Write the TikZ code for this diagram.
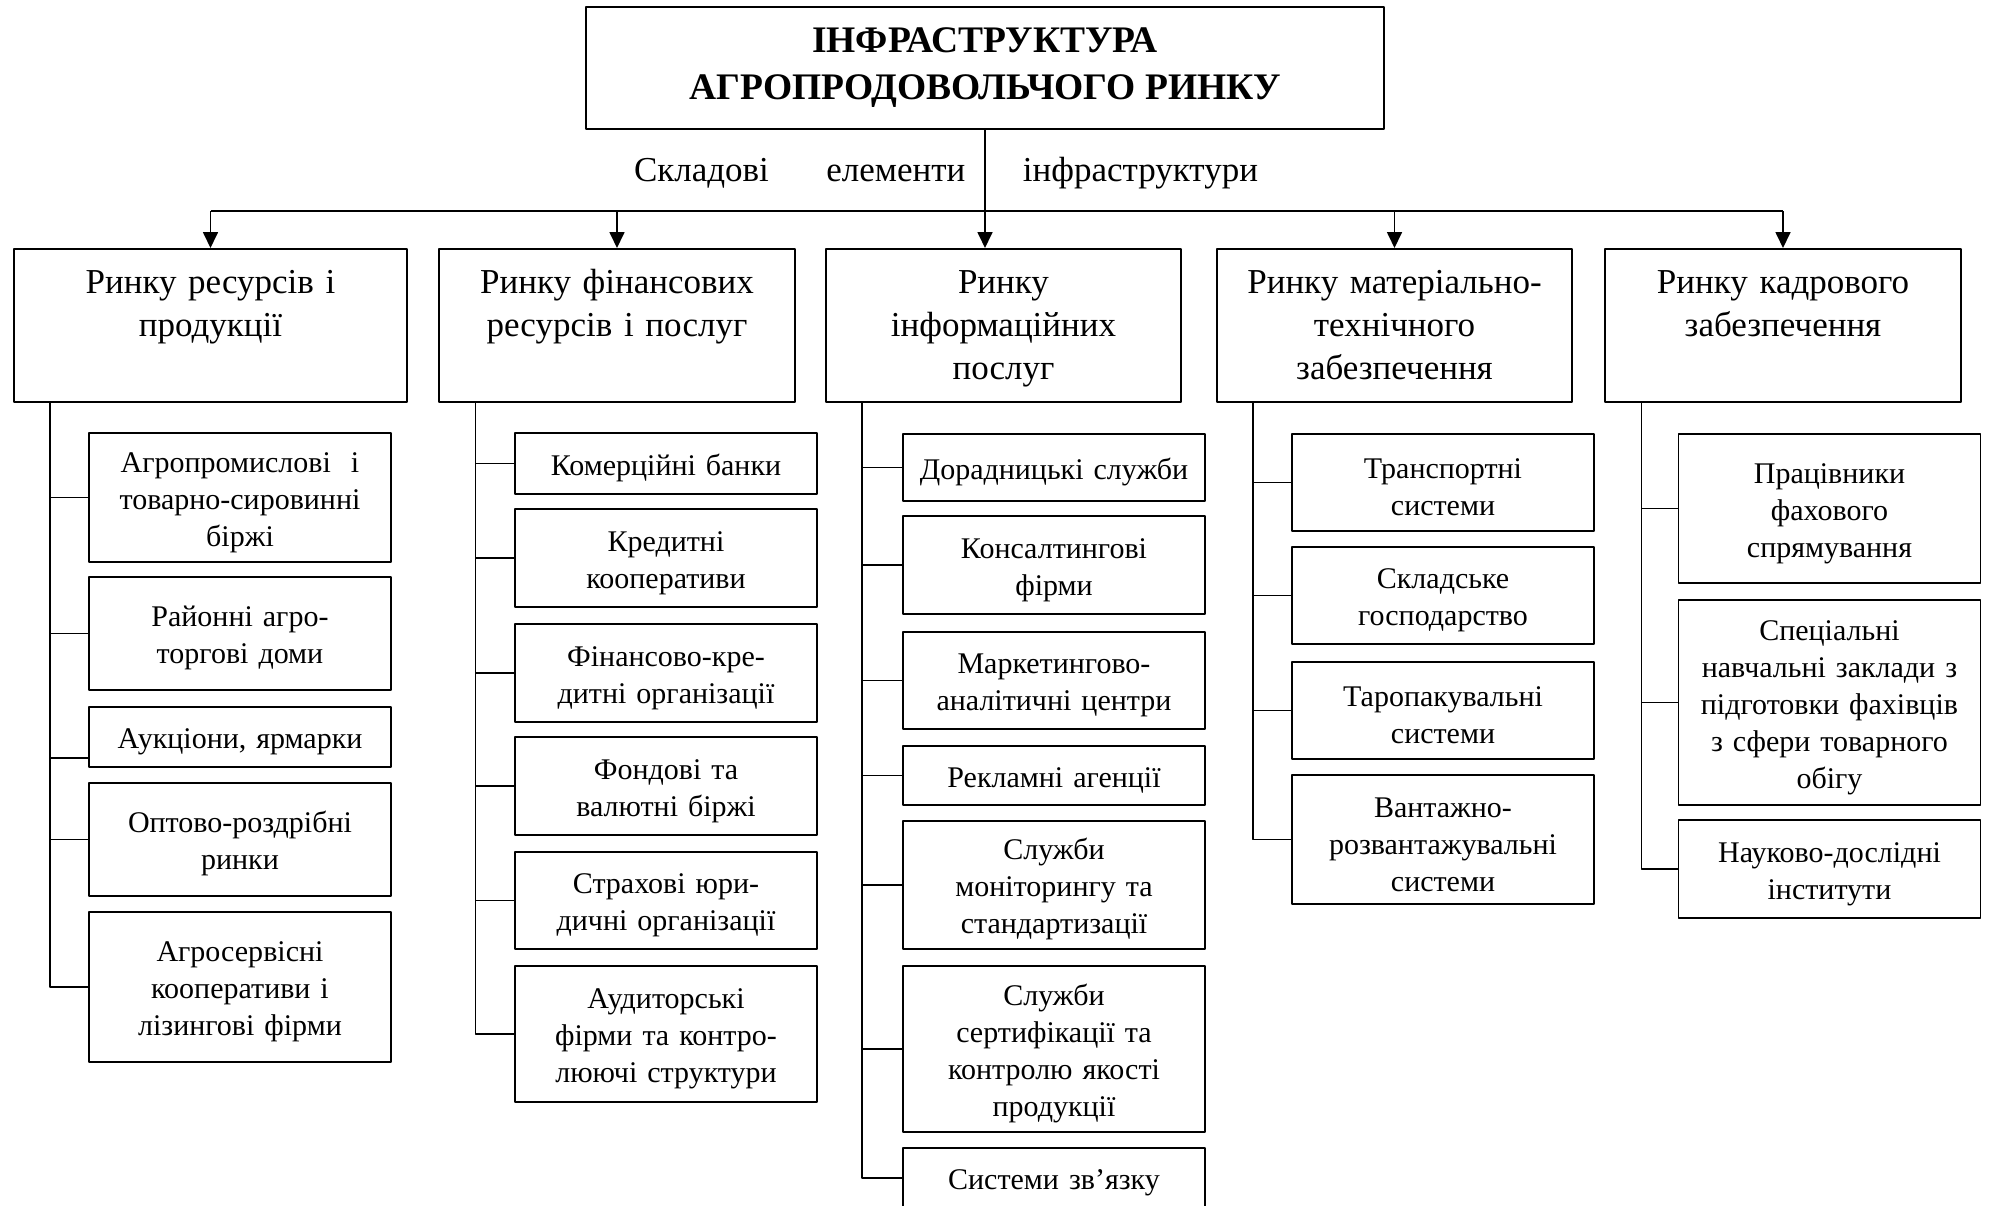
\documentclass[tikz,border=0pt]{standalone}
\usepackage{fontspec}
\setmainfont{Liberation Serif}
\usetikzlibrary{arrows.meta}
\begin{document}
\begin{tikzpicture}[x=0.4pt, y=-0.4pt, line width=0.7pt, line join=round,
	>={Triangle[length=6.4pt,width=6pt]},
	head/.style={draw, align=center, font=\fontsize{15}{18.8}\selectfont\bfseries, minimum width=319.2pt, minimum height=48.8pt},
	market/.style={draw, anchor=north, align=center, font=\fontsize{14}{17.2}\selectfont, inner xsep=0pt, inner ysep=0pt, text width=142.2pt, text height=18pt, text depth=43.2pt},
	item/.style={draw, anchor=north, align=center, font=\fontsize{12}{14.8}\selectfont, inner xsep=1pt, inner ysep=0pt, text width=118.8pt, execute at begin node={\rule{0pt}{12pt}}}]
	\clip (0,0) rectangle (1989,1206);
	\node[head] (title) at (985,68) {ІНФРАСТРУКТУРА\\АГРОПРОДОВОЛЬЧОГО РИНКУ};
	\node[font=\fontsize{14}{17}\selectfont] (sub) at (946,173) {Складові\hspace{23pt}елементи\hspace{23pt}інфраструктури};
	\node[market, text width=157.2pt] (m1) at (210.5,248) {Ринку ресурсів і\\продукції};
	\node[market] (m2) at (617,248) {Ринку фінансових\\ресурсів і послуг};
	\node[market] (m3) at (1003.5,248) {Ринку\\інформаційних\\послуг};
	\node[market] (m4) at (1394.5,248) {Ринку матеріально-\\технічного\\забезпечення};
	\node[market] (m5) at (1783,248) {Ринку кадрового\\забезпечення};
	\coordinate (bus) at (0,211);
	\draw (m1.north |- bus) -- (m5.north |- bus);
	\draw[->] (title.south) -- (title.south |- m3.north);
	\foreach \m in {m1,m2,m4,m5}
	\draw[->] (\m.north |- bus) -- (\m.north);
	\node[item, minimum height=51.6pt] (a1) at (240,432) {Агропромислові\ \ і\\товарно-сировинні\\біржі};
	\node[item, minimum height=45.2pt] (a2) at (240,576) {Районні агро-\\торгові доми};
	\node[item, minimum height=24pt] (a3) at (240,706) {Аукціони, ярмарки};
	\node[item, minimum height=45.2pt] (a4) at (240,782) {Оптово-роздрібні\\ринки};
	\node[item, minimum height=60pt] (a5) at (240,911) {Агросервісні\\кооперативи і\\лізингові фірми};
	\node[item, minimum height=24.4pt] (b1) at (666,432) {Комерційні банки};
	\node[item, minimum height=39.2pt] (b2) at (666,508) {Кредитні\\кооперативи};
	\node[item, minimum height=39.2pt] (b3) at (666,623) {Фінансово-кре-\\дитні організації};
	\node[item, minimum height=39.2pt] (b4) at (666,736) {Фондові та\\валютні біржі};
	\node[item, minimum height=38.8pt] (b5) at (666,851) {Страхові юри-\\дичні організації};
	\node[item, minimum height=54.4pt] (b6) at (666,965) {Аудиторські\\фірми та контро-\\люючі структури};
	\node[item, minimum height=26.8pt] (c1) at (1054,433) {Дорадницькі служби};
	\node[item, minimum height=39.2pt] (c2) at (1054,515) {Консалтингові\\фірми};
	\node[item, minimum height=38.8pt] (c3) at (1054,631) {Маркетингово-\\аналітичні центри};
	\node[item, minimum height=23.6pt] (c4) at (1054,745) {Рекламні агенції};
	\node[item, minimum height=51.2pt] (c5) at (1054,820) {Служби\\моніторингу та\\стандартизації};
	\node[item, minimum height=66.4pt] (c6) at (1054,965) {Служби\\сертифікації та\\контролю якості\\продукції};
	\node[item, minimum height=24pt] (c7) at (1054,1147) {Системи зв’язку};
	\node[item, minimum height=38.8pt] (d1) at (1443,433) {Транспортні\\системи};
	\node[item, minimum height=38.8pt] (d2) at (1443,546) {Складське\\господарство};
	\node[item, minimum height=38.8pt] (d3) at (1443,661) {Таропакувальні\\системи};
	\node[item, minimum height=51.6pt] (d4) at (1443,774) {Вантажно-\\розвантажувальні\\системи};
	\node[item, minimum height=59.6pt] (e1) at (1829.5,433) {Працівники\\фахового\\спрямування};
	\node[item, minimum height=82pt] (e2) at (1829.5,599) {Спеціальні\\навчальні заклади з\\підготовки фахівців\\з сфери товарного\\обігу};
	\node[item, minimum height=39.2pt] (e3) at (1829.5,819) {Науково-дослідні\\інститути};
	\foreach \m/\kids in {m1/{a1,a2,a4,a5}, m2/{b1,b2,b3,b4,b5,b6}, m3/{c1,c2,c3,c4,c5,c6,c7}, m4/{d1,d2,d3,d4}, m5/{e1,e2,e3}}
	\foreach \k in \kids
	\draw ([xshift=14.8pt]\m.south west) |- (\k.west);
	\draw ([xshift=14.8pt]m1.south west) |- ([yshift=-8.4pt]a3.west);
\end{tikzpicture}
\end{document}
